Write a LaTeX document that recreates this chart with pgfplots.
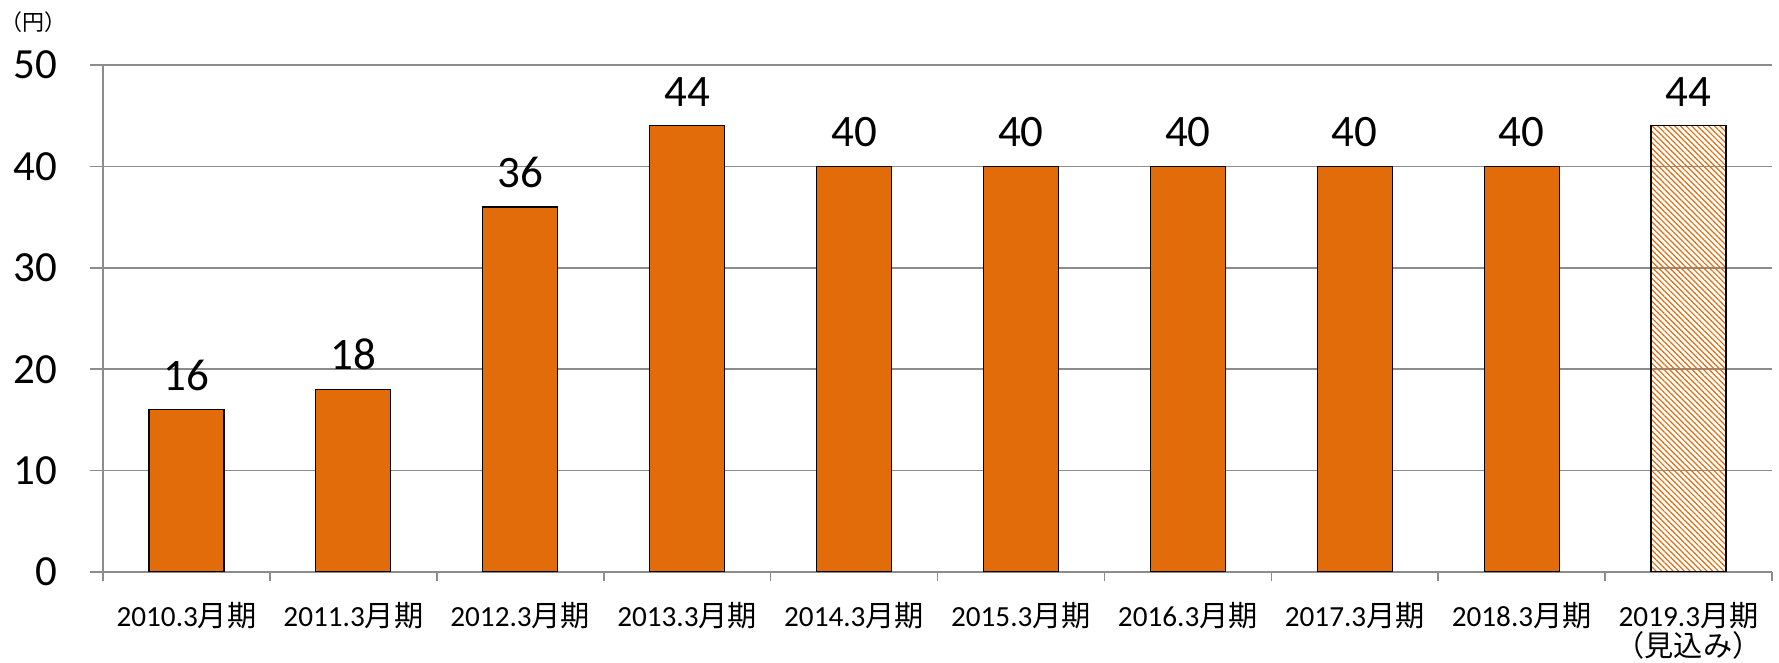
\documentclass[border=0pt]{standalone}
\usepackage{pgfplots}
\pgfplotsset{compat=1.18}
\usetikzlibrary{patterns.meta}
\usepackage{fontspec}
\setmainfont{Carlito}
\newfontfamily\jp{Noto Sans CJK JP}
\definecolor{barorange}{HTML}{E36C0A}
\definecolor{gridgray}{HTML}{8C8C8C}
\begin{document}
\begin{tikzpicture}
\path[use as bounding box] (-51.5pt,-45.5pt) rectangle (838pt,286pt);
\begin{axis}[
  at={(0,0)}, anchor=south west,
  scale only axis, width=834.5pt, height=253.5pt,
  axis lines*=left,
  axis line style={gridgray, line width=0.8pt},
  xmin=-0.5, xmax=9.5, ymin=0, ymax=50,
  ytick={0,10,...,50},
  ymajorgrids, grid style={gridgray, line width=0.8pt},
  tick align=outside,
  major tick length=6.5pt,
  minor tick length=4.5pt,
  tick style={gridgray, line width=0.8pt},
  xtick={0,...,9},
  major x tick style={draw=none},
  minor x tick style={gridgray, line width=0.8pt},
  minor xtick={-0.5,0.5,...,9.5},
  xticklabels={2010.3{\jp 月期},2011.3{\jp 月期},2012.3{\jp 月期},2013.3{\jp 月期},2014.3{\jp 月期},2015.3{\jp 月期},2016.3{\jp 月期},2017.3{\jp 月期},2018.3{\jp 月期},{2019.3{\jp 月期}\\[-2.5pt]{\jp （見込み）}}},
  xticklabel style={align=center, font=\fontsize{14.6}{17.5}\selectfont, yshift=-5pt},
  yticklabel style={font=\fontsize{21.5}{25}\selectfont, xshift=-13pt},
  /pgf/number format/assume math mode=true,
  ybar, bar width=37.5pt,
  nodes near coords,
  every node near coord/.append style={font=\fontsize{22.5}{26}\selectfont, black, yshift=6pt},
]
\addplot[bar shift=0pt, fill=barorange, draw=black, line width=0.6pt] coordinates {
  (0,16) (1,18) (2,36) (3,44) (4,40) (5,40) (6,40) (7,40) (8,40)
};
\addplot[bar shift=0pt, draw=black, line width=0.6pt,
  pattern={Lines[angle=-45,distance=2pt,line width=0.6pt]}, pattern color=barorange] coordinates {
  (9,44)
};
\end{axis}
\node[font=\jp\fontsize{11}{13}\selectfont] at (-34.75pt,275pt) {（円）};
\end{tikzpicture}
\end{document}
